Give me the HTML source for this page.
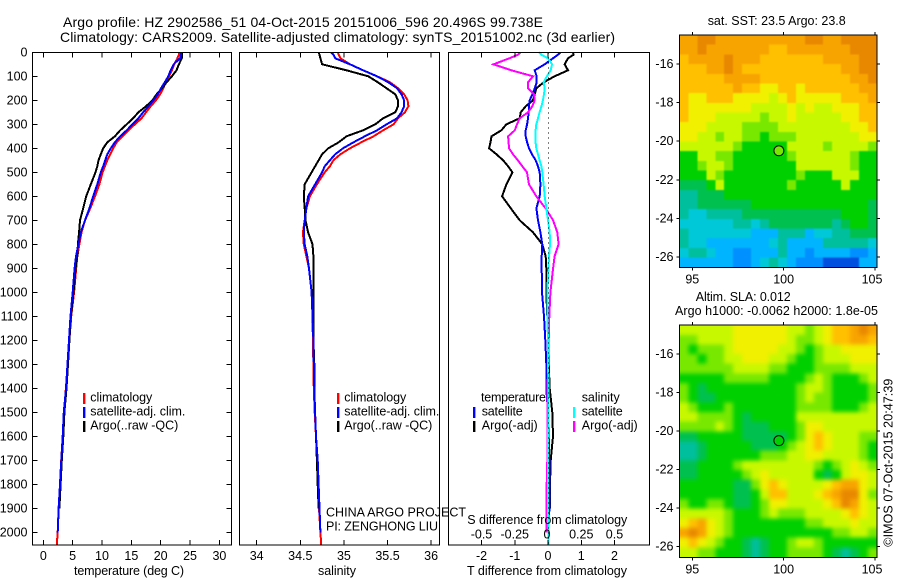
<!DOCTYPE html>
<html lang="en">
<head>
<meta charset="utf-8">
<title>Argo profile chart</title>
<style>
html,body{margin:0;padding:0;background:#fff;}
svg{display:block;}
text{font-family:"Liberation Sans",Arial,sans-serif;fill:#000;}
</style>
</head>
<body>
<svg id="chart" xmlns="http://www.w3.org/2000/svg" width="900" height="580" viewBox="0 0 900 580">
<defs>
<filter id="soft-sst" x="-10%" y="-10%" width="120%" height="120%" color-interpolation-filters="sRGB"><feGaussianBlur stdDeviation="0.9"/></filter>
<filter id="soft-sla" x="-10%" y="-10%" width="120%" height="120%" color-interpolation-filters="sRGB"><feGaussianBlur stdDeviation="2.2"/></filter>
<clipPath id="clip-sst"><rect x="679.3" y="35" width="197.7" height="232.3"/></clipPath>
<clipPath id="clip-sla"><rect x="679.3" y="325" width="197.7" height="232.3"/></clipPath>
</defs>
<rect x="0" y="0" width="900" height="580" fill="#fff"/>
<g id="maps"></g>
<g id="marks"></g>
<g id="axes"></g>
<g font-size="14">
<text x="63" y="27" textLength="480">Argo profile: HZ 2902586_51 04-Oct-2015 20151006_596 20.496S 99.738E</text>
<text x="60" y="42" textLength="555">Climatology: CARS2009. Satellite-adjusted climatology: synTS_20151002.nc (3d earlier)</text>
</g>
<g font-size="12.5">
<text x="707.7" y="25" textLength="138">sat. SST: 23.5 Argo: 23.8</text>
<text x="695.7" y="301" textLength="95">Altim. SLA: 0.012</text>
<text x="675" y="315" textLength="203">Argo h1000: -0.0062 h2000: 1.8e-05</text>
<text transform="translate(892.5,546.7) rotate(-90)" textLength="168">©IMOS 07-Oct-2015 20:47:39</text>
</g>
<g font-size="12.5">
<text x="74" y="575" textLength="110">temperature (deg C)</text>
<text x="318" y="575" textLength="38">salinity</text>
<text x="467" y="575" textLength="160">T difference from climatology</text>
<text x="467.3" y="524" textLength="160">S difference from climatology</text>
<text x="326" y="516.7" textLength="140">CHINA ARGO PROJECT</text>
<text x="326" y="530.7" textLength="112">PI: ZENGHONG LIU</text>
</g>
<g font-size="12.5">
<rect x="83" y="393" width="2.4" height="11" fill="#ff0000"/>
<text x="90.3" y="401.7" textLength="62">climatology</text>
<rect x="83" y="407" width="2.4" height="11" fill="#0000ff"/>
<text x="90.3" y="415.7" textLength="95">satellite-adj. clim.</text>
<rect x="83" y="421" width="2.4" height="11" fill="#000"/>
<text x="90.3" y="429.7" textLength="88">Argo(..raw -QC)</text>
</g>
<g font-size="12.5">
<rect x="337" y="393" width="2.4" height="11" fill="#ff0000"/>
<text x="344.3" y="401.7" textLength="62">climatology</text>
<rect x="337" y="407" width="2.4" height="11" fill="#0000ff"/>
<text x="344.3" y="415.7" textLength="95">satellite-adj. clim.</text>
<rect x="337" y="421" width="2.4" height="11" fill="#000"/>
<text x="344.3" y="429.7" textLength="88">Argo(..raw -QC)</text>
</g>
<g font-size="12.5">
<text x="481" y="401.7" textLength="65">temperature</text>
<rect x="473" y="407" width="2.4" height="11" fill="#0000ff"/>
<text x="481.7" y="415.7" textLength="41">satellite</text>
<rect x="473" y="421" width="2.4" height="11" fill="#000"/>
<text x="481.7" y="429.7" textLength="56">Argo(-adj)</text>
<text x="581.7" y="401.7" textLength="38">salinity</text>
<rect x="573" y="407" width="2.4" height="11" fill="#00ffff"/>
<text x="581.7" y="415.7" textLength="41">satellite</text>
<rect x="573" y="421" width="2.4" height="11" fill="#ff00ff"/>
<text x="581.7" y="429.7" textLength="56">Argo(-adj)</text>
</g>
</svg>
<script>
// ---------- profile data ----------
const depths = [0,10,25,50,75,100,125,150,175,200,225,250,275,300,325,350,375,400,425,450,475,500,550,600,650,700,750,800,850,900,1000,1100,1200,1300,1400,1500,1600,1700,1800,1900,2000,2050];
const tempClim = [23.2,23.1,22.85,22.3,21.9,21.4,20.85,20.45,19.9,19.2,18.3,17.5,16.75,15.6,14.5,13.5,12.5,11.9,11.4,10.9,10.5,10.1,9.55,8.8,8,7.1,6.5,6.15,5.8,5.6,5.25,4.75,4.45,4.15,3.85,3.55,3.3,3.05,2.85,2.6,2.45,2.3];
const tempSat = [23.5,23.45,23.3,22.2,21.7,21.3,20.7,20.05,19.5,18.75,17.9,17,16.2,15.2,14.2,13.1,12.2,11.5,10.9,10.55,10.2,9.8,9.2,8.5,7.85,7.1,6.4,6,5.57,5.34,5,4.63,4.38,4.12,3.87,3.5,3.3,3.07,2.85,2.62,2.45,null];
const tempArgo = [23.6,23.6,23.6,23.1,22.7,21.9,21,20.2,19.3,18.6,17.5,16.2,15.3,14.2,13.1,12.2,10.9,10.2,9.8,9.4,9.2,8.9,8.1,7.3,6.8,6.25,6.1,5.9,5.8,5.5,5.15,4.7,4.45,4.2,3.95,3.6,3.4,3.15,2.95,2.75,null,null];
const salClim = [34.93,34.94,34.96,35.07,35.22,35.38,35.53,35.62,35.69,35.73,35.74,35.7,35.62,35.57,35.45,35.34,35.2,35.07,34.96,34.88,34.84,34.78,34.69,34.61,34.57,34.55,34.53,34.54,34.57,34.6,34.63,34.64,34.645,34.65,34.655,34.665,34.68,34.695,34.705,34.715,34.73,34.74];
const salSat = [34.85,34.88,34.9,35.07,35.22,35.38,35.51,35.61,35.66,35.69,35.69,35.66,35.61,35.49,35.38,35.24,35.11,34.99,34.9,34.84,34.78,34.75,34.67,34.59,34.57,34.55,34.54,34.55,34.58,34.6,34.63,34.64,34.65,34.655,34.66,34.67,34.68,34.7,34.71,34.72,34.73,null];
const salArgo = [34.71,34.72,34.73,34.75,35.03,35.28,35.39,35.49,35.59,35.62,35.62,35.59,35.45,35.36,35.22,35.03,34.94,34.82,34.75,34.71,34.67,34.63,34.55,34.54,34.55,34.56,34.59,34.64,34.65,34.65,34.65,34.65,34.65,34.66,34.66,34.67,34.68,34.69,34.7,34.71,null,null];
const dTempArgo = [0.75,0.77,0.6,0.5,0.6,0.2,-0.13,-0.35,-0.4,-0.45,-0.67,-0.82,-0.85,-1.25,-1.4,-1.7,-1.73,-1.77,-1.55,-1.35,-1.2,-1.07,-1.25,-1.38,-1.12,-0.85,-0.45,-0.17,-0.07,-0.05,-0.05,-0.02,0,0.02,0.05,0.13,0.15,0.08,0.06,0.06,null,null];
const dTempSat = [0.37,0.3,0.15,-0.1,-0.4,-0.34,-0.34,-0.4,-0.47,-0.55,-0.57,-0.58,-0.6,-0.63,-0.67,-0.67,-0.63,-0.57,-0.48,-0.37,-0.3,-0.25,-0.23,-0.25,-0.35,-0.3,-0.23,-0.17,-0.19,-0.19,-0.18,-0.12,-0.08,-0.05,-0.05,0,0.02,0.04,0.05,0.05,-0.05,null];
const dSalSat = [-0.068,-0.05,0,0.03,0.02,-0.008,-0.033,-0.025,-0.03,-0.038,-0.05,-0.063,-0.075,-0.088,-0.093,-0.093,-0.093,-0.088,-0.075,-0.063,-0.05,-0.043,-0.033,-0.025,-0.013,0,0.013,0.015,0.008,0.003,-0.005,-0.005,0,0,0.005,0.005,0,0,0,0,0.003,0.005];
const dSalArgo = [-0.208,-0.225,-0.29,-0.41,-0.275,-0.113,-0.15,-0.15,-0.105,-0.1,-0.118,-0.15,-0.213,-0.233,-0.25,-0.3,-0.296,-0.293,-0.263,-0.226,-0.193,-0.158,-0.143,-0.088,-0.018,0.038,0.07,0.08,0.05,0.038,0.018,0.01,0.005,0,-0.003,-0.005,-0.003,-0.005,-0.01,-0.01,-0.01,null];

// ---------- axis tick labels ----------
const depthTicks = [0,100,200,300,400,500,600,700,800,900,1000,1100,1200,1300,1400,1500,1600,1700,1800,1900,2000];
const tempTicks = [0,5,10,15,20,25,30];
const salTicks = [34,34.5,35,35.5,36];
const dTempTicks = [-2,-1,0,1,2];
const dSalTicks = [-0.5,-0.25,0,0.25,0.5];
const lonTicks = [95,100,105];
const latTicks = [16,18,20,22,24,26];
const floatLon = 99.738;
const floatLat = 20.496;
const floatSstLevel = [7];
const floatSlaLevel = [6];

// ---------- map data: colour-scale level per 0.5 degree cell, north to south ----------
const sstGrid = [
[11,11,12,12,11,11,11,11,11,11,11,11,11,11,12,12,11,11,12,12,12,12],
[11,11,12,11,11,11,11,11,11,11,10,10,11,11,11,11,11,11,11,12,12,12],
[10,11,11,11,11,12,11,11,11,10,10,10,10,10,10,10,11,11,11,11,12,12],
[10,10,10,11,11,12,11,10,10,10,10,10,10,10,10,10,10,10,11,11,12,12],
[10,10,10,10,10,11,11,11,11,10,10,10,10,10,10,10,10,10,10,11,11,12],
[10,10,10,10,10,10,11,10,10,9,9,10,10,9,10,10,10,10,10,10,11,11],
[10,9,9,10,10,10,9,9,9,9,8,9,10,9,9,9,9,9,10,10,10,11],
[10,9,9,9,9,9,9,9,8,8,8,8,9,8,9,8,8,9,9,9,10,10],
[10,9,9,9,8,8,8,8,8,7,8,8,9,8,8,8,8,8,9,9,10,10],
[9,9,9,8,8,8,8,7,7,7,7,8,8,8,8,8,8,8,8,9,9,10],
[9,9,8,8,7,8,8,7,7,6,7,7,7,8,8,8,8,8,8,8,9,9],
[8,8,8,8,8,8,7,6,6,6,6,6,8,8,8,8,7,8,8,8,8,7],
[6,6,8,8,7,7,6,6,6,6,6,6,7,8,8,8,8,8,8,7,6,6],
[6,6,7,8,8,7,6,6,6,6,6,6,6,8,8,8,8,8,8,7,6,6],
[6,6,6,8,7,6,6,6,6,6,6,6,6,7,6,6,6,8,8,8,6,6],
[5,5,5,6,8,6,6,6,6,6,6,6,7,6,6,6,6,6,8,6,6,6],
[4,4,5,5,5,6,6,6,6,6,6,6,6,6,6,6,6,6,6,6,6,6],
[4,4,5,5,5,5,5,5,6,6,6,6,6,6,6,6,6,6,6,6,6,5],
[4,3,3,4,4,4,4,5,5,5,5,5,5,5,5,5,5,5,6,6,6,5],
[3,3,3,3,3,3,4,4,3,4,5,5,5,5,5,5,5,4,5,6,6,5],
[4,3,3,3,3,3,3,3,2,2,2,4,4,4,2,3,3,4,4,5,5,5],
[4,3,3,2,2,2,2,2,2,2,3,4,2,2,2,2,4,4,4,4,4,3],
[3,4,4,3,2,2,1,1,2,2,2,4,2,2,1,2,2,2,2,1,1,2],
[2,2,2,2,2,2,1,1,2,3,4,3,2,1,1,1,0,0,0,0,2,2]
];
const slaGrid = [
[8,8,8,8,8,8,9,9,9,9,9,9,8,8,7,8,9,10,10,11,12,11],
[7,7,8,8,8,8,9,9,9,9,9,9,8,7,7,8,9,10,10,11,11,10],
[7,6,7,7,7,8,9,9,9,9,9,8,8,7,6,7,8,8,9,9,9,9],
[7,7,6,7,7,8,8,9,9,9,8,8,7,6,6,7,8,8,8,9,9,9],
[7,7,7,7,7,7,8,8,8,8,7,7,6,6,6,7,7,7,7,8,8,8],
[6,6,6,6,6,7,7,7,7,7,6,6,6,6,7,8,7,6,6,6,7,8],
[7,6,5,6,6,6,6,6,6,6,6,6,6,7,8,8,7,6,6,6,6,7],
[7,6,5,5,6,6,6,6,6,6,6,6,6,7,8,7,7,6,6,6,6,7],
[8,7,6,6,6,7,6,6,6,6,6,6,6,7,7,7,7,6,6,6,7,8],
[8,8,7,7,7,7,6,5,6,6,6,6,6,8,8,8,8,8,8,8,8,8],
[7,7,7,7,8,7,6,5,5,5,6,6,6,7,9,9,8,8,8,8,8,8],
[5,5,6,6,6,6,6,5,5,5,5,5,6,7,9,10,9,8,8,8,7,7],
[4,4,5,6,6,6,6,6,5,5,5,6,7,8,9,10,9,8,8,8,7,6],
[4,4,5,6,6,6,6,6,6,7,7,7,8,8,9,9,8,8,8,8,7,6],
[5,5,6,6,6,6,7,8,8,8,8,8,8,8,8,7,6,7,8,9,8,7],
[5,5,6,6,6,6,6,7,8,9,8,8,8,8,8,6,5,6,8,9,9,8],
[6,6,6,6,6,6,5,5,7,9,10,9,8,8,8,8,9,10,11,11,9,8],
[6,6,6,6,6,6,5,5,6,8,10,10,8,8,8,9,10,11,12,12,9,7],
[7,6,6,7,7,6,5,5,6,7,9,9,8,8,8,8,9,10,12,11,9,8],
[8,8,8,8,8,7,6,6,6,7,8,7,7,7,8,8,8,8,9,10,9,8],
[9,10,11,9,8,7,6,6,6,6,6,6,6,6,7,7,8,8,8,9,8,8],
[11,12,11,9,8,7,6,6,6,6,6,6,6,6,6,6,6,7,7,8,8,7],
[9,10,9,8,7,6,6,5,4,5,6,6,7,8,8,7,6,6,6,6,6,6],
[8,8,7,7,6,6,6,5,4,5,6,6,7,7,7,7,6,5,4,5,6,7]
];

// ---------- rendering ----------
const NS = 'http://www.w3.org/2000/svg';
const colourScale = ['#0050e0','#0090ff','#00b4ff','#00c8d8','#00bf9c','#00c050','#00d000','#78e800','#c8f800','#f0f000','#ffc000','#f8a400','#e88800'];

function make(tag, attrs, parent) {
  const el = document.createElementNS(NS, tag);
  for (const k in attrs) el.setAttribute(k, attrs[k]);
  parent.appendChild(el);
  return el;
}
const depthY = d => 52.3 + d * 0.24;
const tempX = t => 43.3 + t * 5.87;
const salX = s => 256.7 + (s - 34) * 87.2;
const dTempX = t => 548 + t * 33.25;
const dSalX = s => 548 + s * 133;

const marksLayer = document.getElementById('marks');
const axesLayer = document.getElementById('axes');
const mapsLayer = document.getElementById('maps');

function drawProfile(values, xFn, colour, width, seriesName) {
  let d = '';
  let pen = false;
  values.forEach((v, i) => {
    if (v === null) { pen = false; return; }
    d += (pen ? 'L' : 'M') + xFn(v).toFixed(1) + ' ' + depthY(depths[i]).toFixed(1);
    pen = true;
  });
  const el = make('path', {d: d, fill: 'none', stroke: colour, 'stroke-width': width, 'shape-rendering': 'crispEdges'}, marksLayer);
  
  
}

function addLabel(x, y, str, anchor, size) {
  const el = make('text', {x: x, y: y, 'text-anchor': anchor, 'font-size': size || 12.5}, axesLayer);
  el.textContent = str;
  
  
}

function addTick(x1, y1, x2, y2) {
  const el = make('line', {x1: x1, y1: y1, x2: x2, y2: y2, stroke: '#000', 'stroke-width': 1, 'shape-rendering': 'crispEdges'}, axesLayer);
  
  
}

function addFrame(x0, x1, y0, y1) {
  const el = make('rect', {x: x0, y: y0, width: x1 - x0, height: y1 - y0, fill: 'none', stroke: '#000', 'stroke-width': 1, 'shape-rendering': 'crispEdges'}, axesLayer);
  
  
}

// profile lines
drawProfile(tempClim, tempX, '#ff0000', 2, 'temperature-climatology-line');
drawProfile(tempArgo, tempX, '#000000', 2, 'temperature-argo-line');
drawProfile(tempSat, tempX, '#0000ff', 2, 'temperature-satellite-line');
drawProfile(salClim, salX, '#ff0000', 2, 'salinity-climatology-line');
drawProfile(salArgo, salX, '#000000', 2, 'salinity-argo-line');
drawProfile(salSat, salX, '#0000ff', 2, 'salinity-satellite-line');
drawProfile(dTempArgo, dTempX, '#000000', 2, 't-difference-argo-line');
drawProfile(dTempSat, dTempX, '#0000ff', 2, 't-difference-satellite-line');
drawProfile(dSalArgo, dSalX, '#ff00ff', 2, 's-difference-argo-line');
drawProfile(dSalSat, dSalX, '#00ffff', 2, 's-difference-satellite-line');

// zero reference line
const zeroLine = make('line', {x1: dTempX(0) + 0.5, y1: depthY(0), x2: dTempX(0) + 0.5, y2: 545, stroke: '#000', 'stroke-width': 1, 'stroke-dasharray': '1 4', 'shape-rendering': 'crispEdges'}, marksLayer);



// profile panels
const plotTop = 52.3, plotBottom = 545;
addFrame(32.3, 231.5, plotTop, plotBottom);
addFrame(239.5, 439.5, plotTop, plotBottom);
addFrame(448.5, 649.5, plotTop, plotBottom);

depthTicks.forEach(d => {
  addTick(32.3, depthY(d), 37.3, depthY(d));
  addTick(231.5, depthY(d), 226.5, depthY(d));
  addLabel(27.5, depthY(d) + 4, String(d), 'end');
});
tempTicks.forEach(t => {
  addTick(tempX(t), plotTop, tempX(t), plotTop + 5);
  addTick(tempX(t), plotBottom, tempX(t), plotBottom - 5);
  addLabel(tempX(t), 560, String(t), 'middle');
});
salTicks.forEach(s => {
  addTick(salX(s), plotTop, salX(s), plotTop + 5);
  addTick(salX(s), plotBottom, salX(s), plotBottom - 5);
  addLabel(salX(s), 560, String(s), 'middle');
});
dTempTicks.forEach(t => {
  addTick(dTempX(t), plotTop, dTempX(t), plotTop + 5);
  addTick(dTempX(t), plotBottom, dTempX(t), plotBottom - 5);
  addLabel(dTempX(t), 560, String(t), 'middle');
});
dSalTicks.forEach(s => {
  addLabel(dSalX(s) - (s === 0 ? 1 : 0), 538.3, String(s), 'middle');
});

// map panels
function drawMap(grid, boxTop, boxBottom, latY, level, mapName, clipId, filterId) {
  const boxLeft = 679.3, boxRight = 877;
  const lonX = lon => 692.3 + (lon - 95) * 18.27;
  const lonStep = 0.4915, latStep = 0.5013;
  const lon0 = 94.29, lat0 = 14.5;
  const bleed = 14;
  const clipGroup = make('g', {'clip-path': 'url(#' + clipId + ')'}, mapsLayer);
  
  
  const softGroup = make('g', {filter: 'url(#' + filterId + ')'}, clipGroup);
  grid.forEach((row, r) => {
    row.forEach((v, c) => {
      let x0 = lonX(lon0 + c * lonStep);
      let x1 = lonX(lon0 + (c + 1) * lonStep) + 0.3;
      let y0 = latY(lat0 + r * latStep);
      let y1 = latY(lat0 + (r + 1) * latStep) + 0.3;
      if (c === 0) x0 -= bleed;
      if (c === row.length - 1) x1 += bleed;
      if (r === 0) y0 -= bleed;
      if (r === grid.length - 1) y1 += bleed;
      const cell = make('rect', {
        x: x0.toFixed(2), y: y0.toFixed(2),
        width: (x1 - x0).toFixed(2),
        height: (y1 - y0).toFixed(2),
        fill: colourScale[v], 'shape-rendering': 'crispEdges'
      }, softGroup);
      
      
    });
  });
  addFrame(boxLeft, boxRight, boxTop, boxBottom);
  lonTicks.forEach(l => {
    addTick(lonX(l), boxTop, lonX(l), boxTop - 3);
    addTick(lonX(l), boxBottom, lonX(l), boxBottom + 3);
    addLabel(l === 105 ? lonX(l) - 3 : lonX(l), boxBottom + 16, String(l), 'middle');
  });
  latTicks.forEach(l => {
    addTick(boxLeft, latY(l), boxLeft - 3, latY(l));
    addTick(boxRight, latY(l), boxRight + 3, latY(l));
    addLabel(673.5, latY(l) + 4, '-' + l, 'end');
  });
  const dot = make('circle', {cx: lonX(floatLon), cy: latY(floatLat), r: 5, fill: colourScale[level[0]], stroke: '#000', 'stroke-width': 1}, axesLayer);
  
  
}
drawMap(sstGrid, 35, 267.3, lat => 64 + (lat - 16) * 19.3, floatSstLevel, 'sst-map', 'clip-sst', 'soft-sst');
drawMap(slaGrid, 325, 557.3, lat => 354 + (lat - 16) * 19.27, floatSlaLevel, 'sla-map', 'clip-sla', 'soft-sla');
</script>
</body>
</html>
